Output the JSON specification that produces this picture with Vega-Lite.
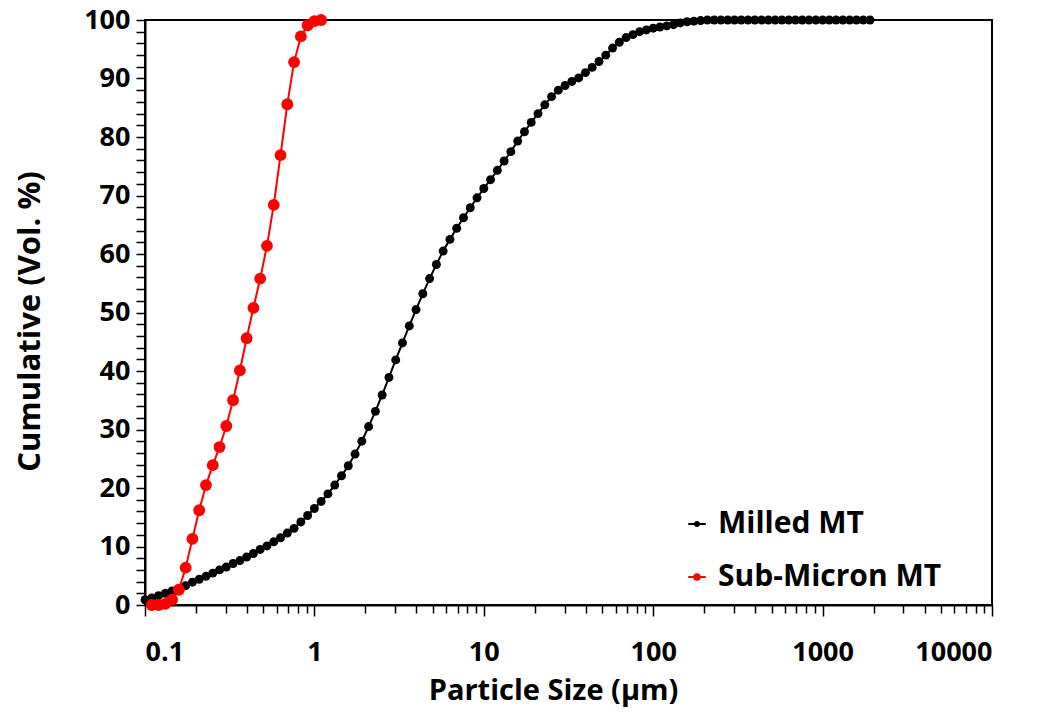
{
  "$schema": "https://vega.github.io/schema/vega-lite/v6.json",
  "width": 847,
  "height": 585,
  "autosize": {"type": "none"},
  "padding": {"left": 145, "top": 20, "right": 49, "bottom": 112},
  "background": "white",
  "config": {
    "font": "Open Sans",
    "view": {"stroke": "black", "strokeWidth": 2},
    "axis": {
      "grid": false,
      "domainColor": "black",
      "domainWidth": 2,
      "tickColor": "black",
      "tickWidth": 1.5,
      "labelFont": "Open Sans",
      "labelFontSize": 27,
      "labelFontWeight": "bold",
      "labelColor": "black",
      "titleFont": "Open Sans",
      "titleFontSize": 29,
      "titleFontWeight": "bold",
      "titleColor": "black"
    },
    "legend": {
      "labelFont": "Open Sans",
      "labelFontSize": 30,
      "labelFontWeight": "bold",
      "labelColor": "black",
      "labelLimit": 0
    }
  },
  "data": {
    "values": [
      {"series": "Milled MT", "diameter": 0.1, "cumulative": 0.9},
      {"series": "Milled MT", "diameter": 0.1096, "cumulative": 1.2},
      {"series": "Milled MT", "diameter": 0.1202, "cumulative": 1.6},
      {"series": "Milled MT", "diameter": 0.1318, "cumulative": 2.0},
      {"series": "Milled MT", "diameter": 0.1445, "cumulative": 2.4},
      {"series": "Milled MT", "diameter": 0.1585, "cumulative": 2.8},
      {"series": "Milled MT", "diameter": 0.1738, "cumulative": 3.3},
      {"series": "Milled MT", "diameter": 0.1905, "cumulative": 3.9},
      {"series": "Milled MT", "diameter": 0.2089, "cumulative": 4.4},
      {"series": "Milled MT", "diameter": 0.2291, "cumulative": 4.9},
      {"series": "Milled MT", "diameter": 0.2512, "cumulative": 5.45},
      {"series": "Milled MT", "diameter": 0.2754, "cumulative": 6.0},
      {"series": "Milled MT", "diameter": 0.302, "cumulative": 6.5},
      {"series": "Milled MT", "diameter": 0.3311, "cumulative": 7.1},
      {"series": "Milled MT", "diameter": 0.3631, "cumulative": 7.6},
      {"series": "Milled MT", "diameter": 0.3981, "cumulative": 8.2},
      {"series": "Milled MT", "diameter": 0.4365, "cumulative": 8.8},
      {"series": "Milled MT", "diameter": 0.4786, "cumulative": 9.5},
      {"series": "Milled MT", "diameter": 0.5248, "cumulative": 10.1},
      {"series": "Milled MT", "diameter": 0.5754, "cumulative": 10.8},
      {"series": "Milled MT", "diameter": 0.631, "cumulative": 11.5},
      {"series": "Milled MT", "diameter": 0.6918, "cumulative": 12.3},
      {"series": "Milled MT", "diameter": 0.7586, "cumulative": 13.1},
      {"series": "Milled MT", "diameter": 0.8318, "cumulative": 14.2},
      {"series": "Milled MT", "diameter": 0.912, "cumulative": 15.3},
      {"series": "Milled MT", "diameter": 1.0, "cumulative": 16.5},
      {"series": "Milled MT", "diameter": 1.096, "cumulative": 17.7},
      {"series": "Milled MT", "diameter": 1.202, "cumulative": 19.0},
      {"series": "Milled MT", "diameter": 1.318, "cumulative": 20.5},
      {"series": "Milled MT", "diameter": 1.445, "cumulative": 22.1},
      {"series": "Milled MT", "diameter": 1.585, "cumulative": 23.8},
      {"series": "Milled MT", "diameter": 1.738, "cumulative": 25.8},
      {"series": "Milled MT", "diameter": 1.905, "cumulative": 28.0},
      {"series": "Milled MT", "diameter": 2.089, "cumulative": 30.5},
      {"series": "Milled MT", "diameter": 2.291, "cumulative": 33.1},
      {"series": "Milled MT", "diameter": 2.512, "cumulative": 35.9},
      {"series": "Milled MT", "diameter": 2.754, "cumulative": 38.9},
      {"series": "Milled MT", "diameter": 3.02, "cumulative": 41.9},
      {"series": "Milled MT", "diameter": 3.311, "cumulative": 44.8},
      {"series": "Milled MT", "diameter": 3.631, "cumulative": 47.7},
      {"series": "Milled MT", "diameter": 3.981, "cumulative": 50.5},
      {"series": "Milled MT", "diameter": 4.365, "cumulative": 53.2},
      {"series": "Milled MT", "diameter": 4.786, "cumulative": 55.8},
      {"series": "Milled MT", "diameter": 5.248, "cumulative": 58.2},
      {"series": "Milled MT", "diameter": 5.754, "cumulative": 60.5},
      {"series": "Milled MT", "diameter": 6.31, "cumulative": 62.5},
      {"series": "Milled MT", "diameter": 6.918, "cumulative": 64.4},
      {"series": "Milled MT", "diameter": 7.586, "cumulative": 66.2},
      {"series": "Milled MT", "diameter": 8.318, "cumulative": 67.9},
      {"series": "Milled MT", "diameter": 9.12, "cumulative": 69.6},
      {"series": "Milled MT", "diameter": 10.0, "cumulative": 71.2},
      {"series": "Milled MT", "diameter": 10.96, "cumulative": 72.7},
      {"series": "Milled MT", "diameter": 12.02, "cumulative": 74.3},
      {"series": "Milled MT", "diameter": 13.18, "cumulative": 75.9},
      {"series": "Milled MT", "diameter": 14.45, "cumulative": 77.5},
      {"series": "Milled MT", "diameter": 15.85, "cumulative": 79.3},
      {"series": "Milled MT", "diameter": 17.38, "cumulative": 80.9},
      {"series": "Milled MT", "diameter": 19.05, "cumulative": 82.5},
      {"series": "Milled MT", "diameter": 20.89, "cumulative": 84.0},
      {"series": "Milled MT", "diameter": 22.91, "cumulative": 85.5},
      {"series": "Milled MT", "diameter": 25.12, "cumulative": 86.9},
      {"series": "Milled MT", "diameter": 27.54, "cumulative": 88.0},
      {"series": "Milled MT", "diameter": 30.2, "cumulative": 88.8},
      {"series": "Milled MT", "diameter": 33.11, "cumulative": 89.5},
      {"series": "Milled MT", "diameter": 36.31, "cumulative": 90.1},
      {"series": "Milled MT", "diameter": 39.81, "cumulative": 91.0},
      {"series": "Milled MT", "diameter": 43.65, "cumulative": 91.9},
      {"series": "Milled MT", "diameter": 47.86, "cumulative": 92.9},
      {"series": "Milled MT", "diameter": 52.48, "cumulative": 94.0},
      {"series": "Milled MT", "diameter": 57.54, "cumulative": 95.2},
      {"series": "Milled MT", "diameter": 63.1, "cumulative": 96.2},
      {"series": "Milled MT", "diameter": 69.18, "cumulative": 97.0},
      {"series": "Milled MT", "diameter": 75.86, "cumulative": 97.5},
      {"series": "Milled MT", "diameter": 83.18, "cumulative": 98.0},
      {"series": "Milled MT", "diameter": 91.2, "cumulative": 98.3},
      {"series": "Milled MT", "diameter": 100, "cumulative": 98.6},
      {"series": "Milled MT", "diameter": 109.6, "cumulative": 98.8},
      {"series": "Milled MT", "diameter": 120.2, "cumulative": 99.0},
      {"series": "Milled MT", "diameter": 131.8, "cumulative": 99.2},
      {"series": "Milled MT", "diameter": 144.5, "cumulative": 99.5},
      {"series": "Milled MT", "diameter": 158.5, "cumulative": 99.7},
      {"series": "Milled MT", "diameter": 173.8, "cumulative": 99.8},
      {"series": "Milled MT", "diameter": 190.5, "cumulative": 99.9},
      {"series": "Milled MT", "diameter": 208.9, "cumulative": 100},
      {"series": "Milled MT", "diameter": 229.1, "cumulative": 100},
      {"series": "Milled MT", "diameter": 251.2, "cumulative": 100},
      {"series": "Milled MT", "diameter": 275.4, "cumulative": 100},
      {"series": "Milled MT", "diameter": 302.0, "cumulative": 100},
      {"series": "Milled MT", "diameter": 331.1, "cumulative": 100},
      {"series": "Milled MT", "diameter": 363.1, "cumulative": 100},
      {"series": "Milled MT", "diameter": 398.1, "cumulative": 100},
      {"series": "Milled MT", "diameter": 436.5, "cumulative": 100},
      {"series": "Milled MT", "diameter": 478.6, "cumulative": 100},
      {"series": "Milled MT", "diameter": 524.8, "cumulative": 100},
      {"series": "Milled MT", "diameter": 575.4, "cumulative": 100},
      {"series": "Milled MT", "diameter": 631.0, "cumulative": 100},
      {"series": "Milled MT", "diameter": 691.8, "cumulative": 100},
      {"series": "Milled MT", "diameter": 758.6, "cumulative": 100},
      {"series": "Milled MT", "diameter": 831.8, "cumulative": 100},
      {"series": "Milled MT", "diameter": 912.0, "cumulative": 100},
      {"series": "Milled MT", "diameter": 1000, "cumulative": 100},
      {"series": "Milled MT", "diameter": 1096, "cumulative": 100},
      {"series": "Milled MT", "diameter": 1202, "cumulative": 100},
      {"series": "Milled MT", "diameter": 1318, "cumulative": 100},
      {"series": "Milled MT", "diameter": 1445, "cumulative": 100},
      {"series": "Milled MT", "diameter": 1585, "cumulative": 100},
      {"series": "Milled MT", "diameter": 1738, "cumulative": 100},
      {"series": "Milled MT", "diameter": 1905, "cumulative": 100},
      {"series": "Sub-Micron MT", "diameter": 0.1096, "cumulative": 0},
      {"series": "Sub-Micron MT", "diameter": 0.1202, "cumulative": 0},
      {"series": "Sub-Micron MT", "diameter": 0.1318, "cumulative": 0.2},
      {"series": "Sub-Micron MT", "diameter": 0.1445, "cumulative": 0.9},
      {"series": "Sub-Micron MT", "diameter": 0.1585, "cumulative": 2.6},
      {"series": "Sub-Micron MT", "diameter": 0.1738, "cumulative": 6.4},
      {"series": "Sub-Micron MT", "diameter": 0.1905, "cumulative": 11.3},
      {"series": "Sub-Micron MT", "diameter": 0.2089, "cumulative": 16.2},
      {"series": "Sub-Micron MT", "diameter": 0.2291, "cumulative": 20.5},
      {"series": "Sub-Micron MT", "diameter": 0.2512, "cumulative": 23.9},
      {"series": "Sub-Micron MT", "diameter": 0.2754, "cumulative": 27.0},
      {"series": "Sub-Micron MT", "diameter": 0.302, "cumulative": 30.6},
      {"series": "Sub-Micron MT", "diameter": 0.3311, "cumulative": 35.0},
      {"series": "Sub-Micron MT", "diameter": 0.3631, "cumulative": 40.1},
      {"series": "Sub-Micron MT", "diameter": 0.3981, "cumulative": 45.6},
      {"series": "Sub-Micron MT", "diameter": 0.4365, "cumulative": 50.8},
      {"series": "Sub-Micron MT", "diameter": 0.4786, "cumulative": 55.8},
      {"series": "Sub-Micron MT", "diameter": 0.5248, "cumulative": 61.4},
      {"series": "Sub-Micron MT", "diameter": 0.5754, "cumulative": 68.4},
      {"series": "Sub-Micron MT", "diameter": 0.631, "cumulative": 76.9},
      {"series": "Sub-Micron MT", "diameter": 0.6918, "cumulative": 85.6},
      {"series": "Sub-Micron MT", "diameter": 0.7586, "cumulative": 92.8},
      {"series": "Sub-Micron MT", "diameter": 0.8318, "cumulative": 97.2},
      {"series": "Sub-Micron MT", "diameter": 0.912, "cumulative": 99.1},
      {"series": "Sub-Micron MT", "diameter": 1.0, "cumulative": 99.8},
      {"series": "Sub-Micron MT", "diameter": 1.096, "cumulative": 100}
    ]
  },
  "layer": [
    {
      "encoding": {
        "x": {
          "field": "diameter", "type": "quantitative",
          "scale": {"type": "log", "domain": [0.1, 10000], "nice": false},
          "axis": {
            "orient": "bottom",
            "values": [0.1, 1, 10, 100, 1000, 10000],
            "format": "~g",
            "tickSize": 11,
            "labelPadding": 23,
            "title": "Particle Size (µm)",
            "titlePadding": 11,
            "titleX": 408
          }
        },
        "y": {
          "field": "cumulative", "type": "quantitative",
          "scale": {"domain": [0, 100], "nice": false},
          "axis": {
            "orient": "left",
            "values": [0, 10, 20, 30, 40, 50, 60, 70, 80, 90, 100],
            "tickSize": 9,
            "labelPadding": 6,
            "title": "Cumulative (Vol. %)",
            "titleFontSize": 31,
            "titlePadding": 37,
            "titleY": 301
          }
        },
        "color": {
          "field": "series", "type": "nominal",
          "scale": {"domain": ["Milled MT", "Sub-Micron MT"], "range": ["black", "#ff0000"]},
          "legend": {
            "orient": "none",
            "legendX": 537,
            "legendY": 489,
            "title": null,
            "padding": 0,
            "symbolSize": 306,
            "symbolStrokeWidth": 2,
            "labelFont": "Open Sans",
            "labelFontSize": 30,
            "labelFontWeight": "bold",
            "labelColor": "black",
            "labelLimit": 0,
            "labelOffset": 6,
            "rowPadding": 23,
            "encode": {
              "symbols": {
                "update": {
                  "shape": {"signal": "datum.value === 'Milled MT' ? 'M-1,0L1,0M-0.22,0A0.22,0.22,0,1,1,0.22,0A0.22,0.22,0,1,1,-0.22,0Z' : 'M-1,0L1,0M-0.32,0A0.32,0.32,0,1,1,0.32,0A0.32,0.32,0,1,1,-0.32,0Z'"},
                  "fill": {"scale": "color", "field": "value"},
                  "stroke": {"scale": "color", "field": "value"},
                  "strokeWidth": {"value": 2},
                  "opacity": {"value": 1}
                }
              }
            }
          }
        }
      },
      "layer": [
        {
          "transform": [{"filter": "datum.series === 'Milled MT'"}],
          "mark": {"type": "line", "strokeWidth": 2}
        },
        {
          "transform": [{"filter": "datum.series === 'Milled MT'"}],
          "mark": {"type": "point", "filled": true, "opacity": 1, "size": 80, "shape": "circle"}
        },
        {
          "transform": [{"filter": "datum.series === 'Sub-Micron MT'"}],
          "mark": {"type": "line", "strokeWidth": 2}
        },
        {
          "transform": [{"filter": "datum.series === 'Sub-Micron MT'"}],
          "mark": {"type": "point", "filled": true, "opacity": 1, "size": 140, "shape": "circle"}
        }
      ]
    },
    {
      "mark": {"type": "point", "opacity": 0},
      "encoding": {
        "x": {
          "field": "diameter", "type": "quantitative",
          "scale": {"type": "log", "domain": [0.1, 10000], "nice": false},
          "axis": {
            "orient": "bottom",
            "values": [0.2, 0.3, 0.4, 0.5, 0.6, 0.7, 0.8, 0.9, 2, 3, 4, 5, 6, 7, 8, 9, 20, 30, 40, 50, 60, 70, 80, 90, 200, 300, 400, 500, 600, 700, 800, 900, 2000, 3000, 4000, 5000, 6000, 7000, 8000, 9000],
            "labels": false,
            "domain": false,
            "tickSize": 8,
            "title": null
          }
        },
        "y": {
          "field": "cumulative", "type": "quantitative",
          "scale": {"domain": [0, 100], "nice": false},
          "axis": {
            "orient": "left",
            "values": [2, 4, 6, 8, 12, 14, 16, 18, 22, 24, 26, 28, 32, 34, 36, 38, 42, 44, 46, 48, 52, 54, 56, 58, 62, 64, 66, 68, 72, 74, 76, 78, 82, 84, 86, 88, 92, 94, 96, 98],
            "labels": false,
            "domain": false,
            "tickSize": 9,
            "title": null
          }
        }
      }
    }
  ],
  "resolve": {"axis": {"x": "independent", "y": "independent"}}
}
